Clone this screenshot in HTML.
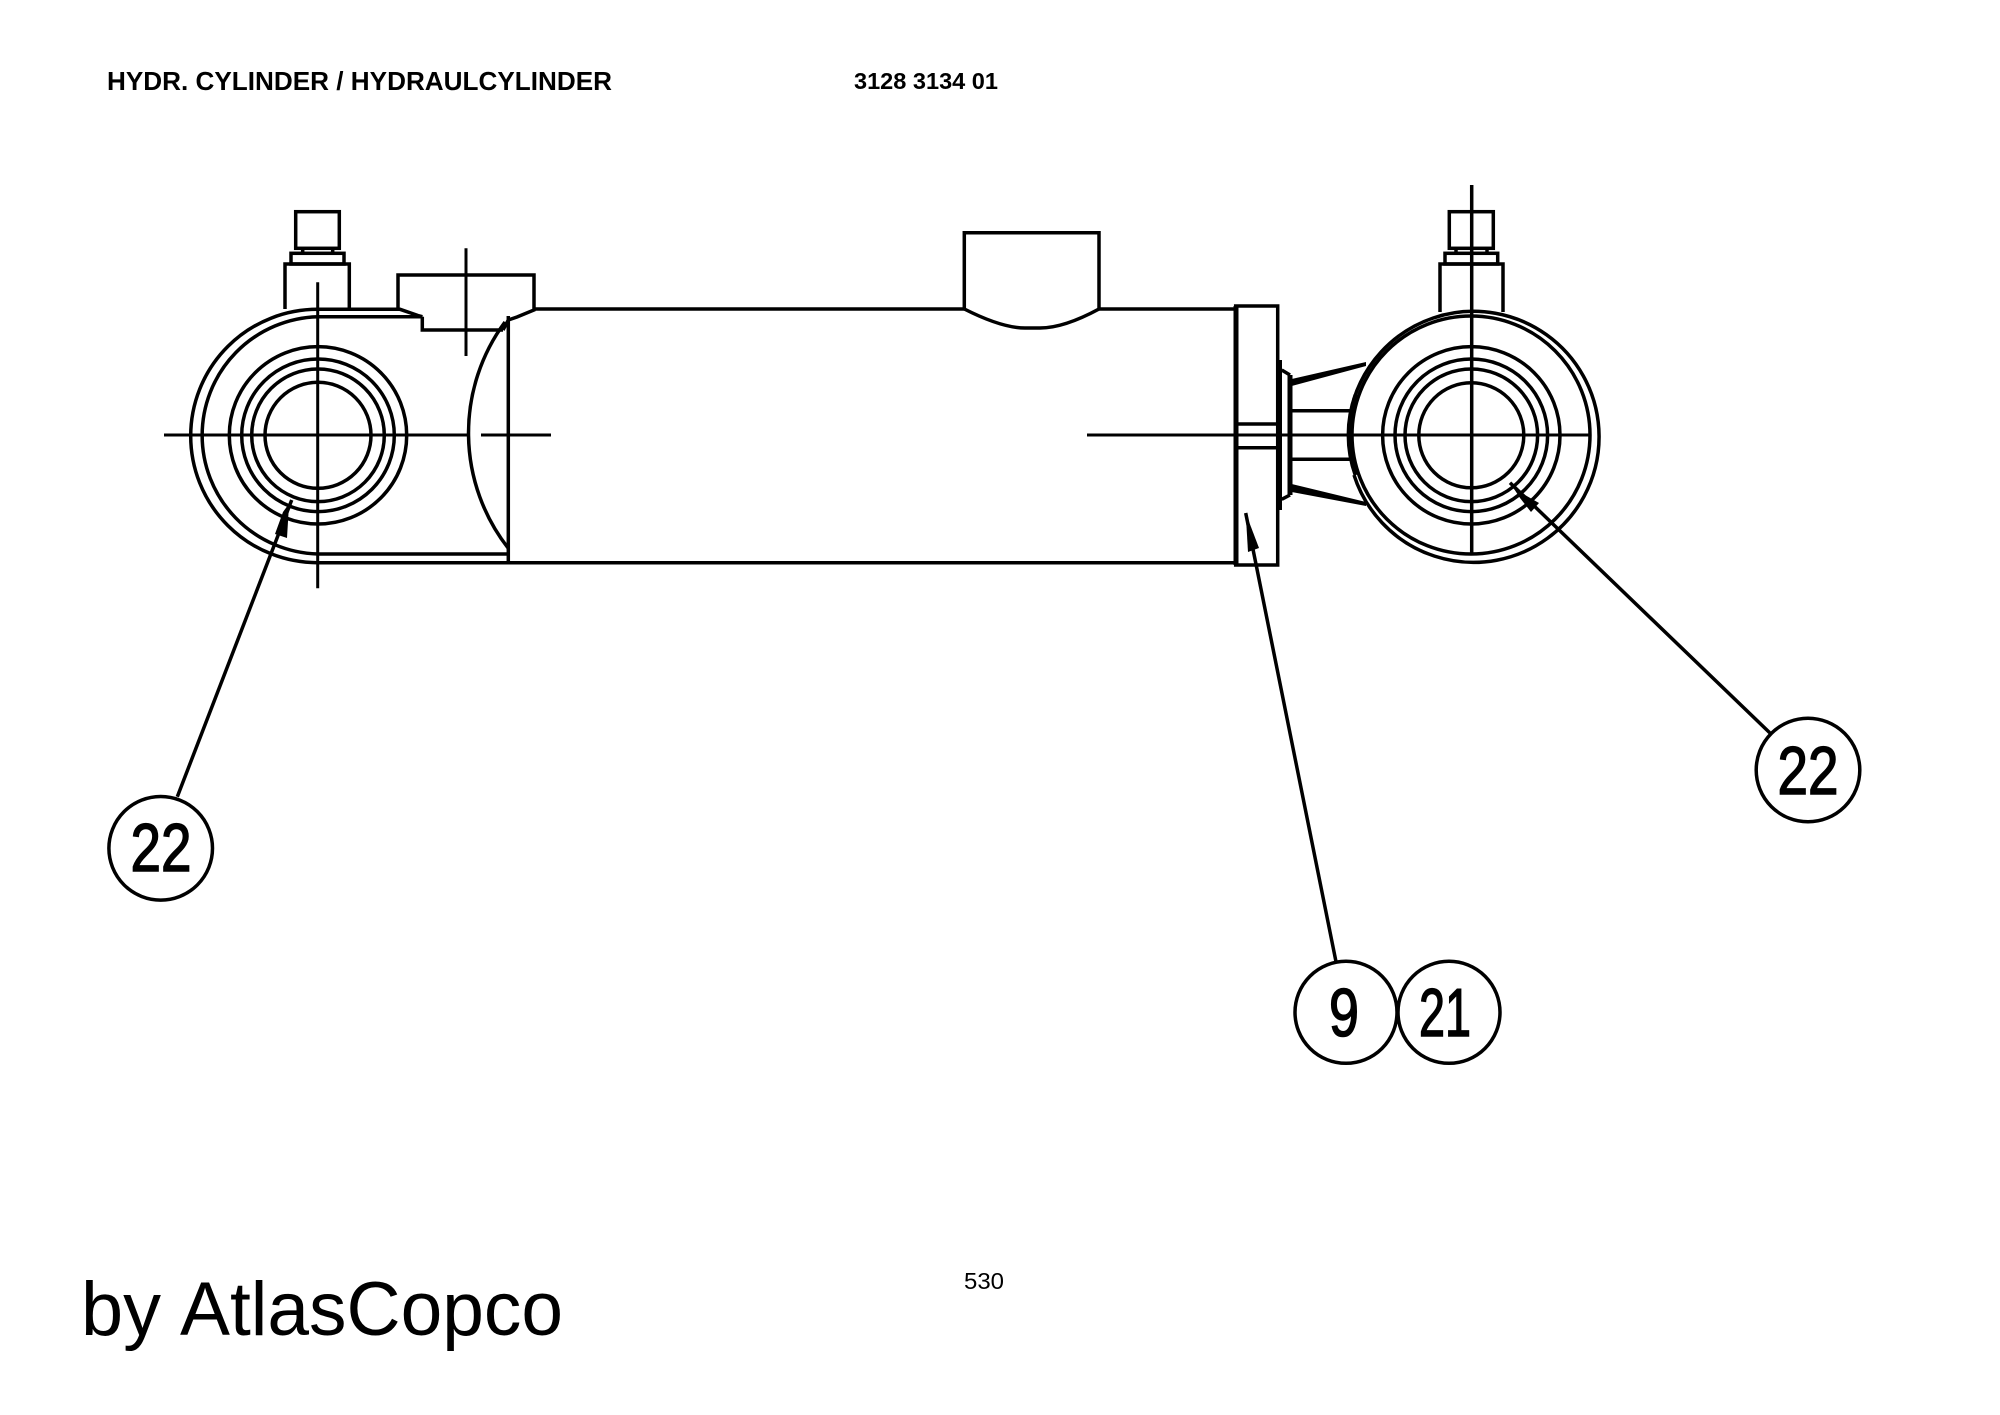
<!DOCTYPE html>
<html>
<head>
<meta charset="utf-8">
<style>
html,body{margin:0;padding:0;background:#fff;}
svg{display:block;}
text{font-family:"Liberation Sans",Arial,sans-serif;fill:#000;}
.l{fill:none;stroke:#000;stroke-width:3.5;}
.c{fill:none;stroke:#000;stroke-width:3;}
.n{font-size:68px;stroke:#000;stroke-width:1.5;text-anchor:middle;}
</style>
</head>
<body>
<svg width="2000" height="1415" viewBox="0 0 2000 1415" xmlns="http://www.w3.org/2000/svg">
<rect width="2000" height="1415" fill="#fff"/>

<text x="107" y="90" font-size="26" font-weight="700" textLength="505" lengthAdjust="spacingAndGlyphs">HYDR. CYLINDER / HYDRAULCYLINDER</text>
<text x="854" y="89" font-size="23.5" font-weight="700" textLength="144" lengthAdjust="spacingAndGlyphs">3128 3134 01</text>
<text x="81" y="1335" font-size="76" textLength="80" lengthAdjust="spacingAndGlyphs">by</text>
<text x="180" y="1335" font-size="76" textLength="383" lengthAdjust="spacingAndGlyphs">AtlasCopco</text>
<text x="964" y="1289" font-size="23.5" textLength="40" lengthAdjust="spacingAndGlyphs">530</text>

<!-- Left eye -->
<path class="l" d="M317.7 309.3A127 126.7 0 0 0 317.7 562.7"/>
<path class="l" d="M317.7 316.7A119 118.7 0 0 0 317.7 554"/>
<circle class="l" cx="318" cy="435.3" r="88.7"/>
<circle class="l" cx="318" cy="435.3" r="76.3"/>
<circle class="l" cx="318" cy="435.3" r="66.3"/>
<circle class="l" cx="318" cy="435.3" r="53"/>

<!-- Left bolt -->
<rect class="l" x="295.7" y="211.7" width="43.6" height="36.6"/>
<path class="l" d="M302.7 248.3V253M332.7 248.3V253"/>
<rect class="l" x="291" y="253.3" width="53" height="10.7"/>
<path class="l" d="M285 309V264H349.3V309"/>

<!-- Head block -->
<path class="l" d="M317.7 309.3H400L418 315.5L422.3 316.7H317.7"/>
<path class="l" d="M422.3 316.7V330H503"/>
<path class="l" d="M398 309V275H534V310L517 317L508.3 320L503 330"/>
<path class="l" d="M505 322A187 187 0 0 0 508.3 548.3"/>
<path class="l" d="M508.3 316V562.7"/>
<path class="l" d="M317.7 554H508.3"/>
<path class="l" d="M317.7 562.7H1236"/>
<path class="l" d="M534 309H964.3M1099 309H1236"/>

<!-- Boss -->
<path class="l" d="M964.3 309V232.7H1099V309"/>
<path class="l" d="M964.3 309C990 322 1010 328 1025 328H1040C1055 328 1075 322 1099 309"/>

<!-- End flange -->
<rect x="1235.7" y="306" width="42" height="259" fill="#fff" stroke="#000" stroke-width="3.5"/>
<path d="M1236 306V565" fill="none" stroke="#000" stroke-width="5"/>
<path class="l" d="M1236 424H1278M1236 447.7H1278"/>
<path d="M1279.5 360V510" fill="none" stroke="#000" stroke-width="5"/>

<!-- Collar and taper -->
<path class="l" d="M1281.7 370L1290 375"/>
<path class="l" d="M1281.7 499.3L1290 495"/>
<path d="M1290 375V495" fill="none" stroke="#000" stroke-width="5"/>
<polygon points="1291.7,379 1366,362 1366,366 1291.7,386" fill="#000"/>
<polygon points="1291.7,484 1366,502 1366,506 1291.7,492" fill="#000"/>
<path class="l" d="M1291 410.7H1353M1291 459.3H1353"/>

<!-- Right eye -->
<path class="l" d="M1353.6 400A125.5 125.5 0 1 1 1354 475"/>
<circle class="l" cx="1471" cy="435" r="119"/>
<path d="M1356 395A119 119 0 0 0 1356 475" fill="none" stroke="#000" stroke-width="5"/>
<circle class="l" cx="1471.3" cy="435.3" r="88.7"/>
<circle class="l" cx="1471.3" cy="435.3" r="76.3"/>
<circle class="l" cx="1471.3" cy="435.3" r="66.3"/>
<circle class="l" cx="1471.3" cy="435.3" r="52.5"/>

<!-- Right bolt -->
<rect class="l" x="1449.3" y="211.7" width="44" height="36.6"/>
<path class="l" d="M1456 248.3V253M1487 248.3V253"/>
<rect class="l" x="1445" y="253.3" width="52.7" height="10.7"/>
<path class="l" d="M1440 312V264H1503V312"/>

<!-- Centre lines -->
<path class="c" d="M164 435H468.3M481 435H551M1087 435H1590"/>
<path class="c" d="M317.7 282.3V588.3"/>
<path class="c" d="M466 248.3V356"/>
<path class="l" d="M1471.7 185V555"/>

<!-- Leaders -->
<path class="l" d="M177.3 796.7L291.7 500"/>
<polygon points="291.7,500 288.5,513 287,538 275,534 283,512" fill="#000"/>
<path class="l" d="M1770 733L1510 482.7"/>
<polygon points="1510,482.7 1525,495 1539,503 1531,512 1520,498" fill="#000"/>
<path class="l" d="M1336 961.7L1245.7 513"/>
<polygon points="1245.7,513 1259,548 1248,552" fill="#000"/>

<!-- Callouts -->
<circle class="l" cx="160.7" cy="848.3" r="51.8"/>
<text class="n" x="161" y="871" textLength="61" lengthAdjust="spacingAndGlyphs">22</text>
<circle class="l" cx="1808" cy="770" r="51.8"/>
<text class="n" x="1808" y="794" textLength="61" lengthAdjust="spacingAndGlyphs">22</text>
<circle class="l" cx="1346" cy="1012.3" r="51"/>
<text class="n" x="1344" y="1036" textLength="30" lengthAdjust="spacingAndGlyphs">9</text>
<circle class="l" cx="1449" cy="1012.3" r="51"/>
<text class="n" x="1445" y="1036" textLength="52" lengthAdjust="spacingAndGlyphs">21</text>
</svg>
</body>
</html>
